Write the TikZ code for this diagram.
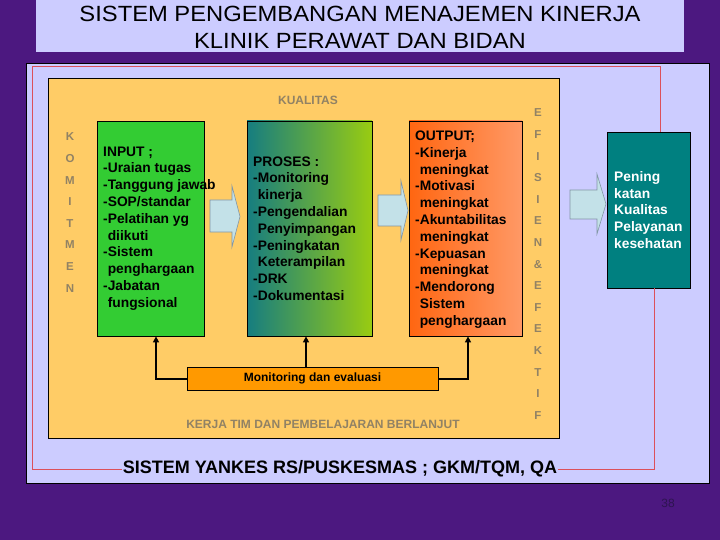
\documentclass[tikz,border=0pt]{standalone}
\usepackage{fontspec}
\setmainfont{Liberation Sans}
\newfontfamily\titlefont{Liberation Sans}[FakeStretch=1.08]
\usetikzlibrary{arrows.meta}
\definecolor{bgpurple}{RGB}{76,24,128}
\definecolor{lav}{RGB}{204,204,255}
\definecolor{peach}{RGB}{255,204,102}
\definecolor{ingreen}{RGB}{51,204,51}
\definecolor{tealc}{RGB}{0,128,128}
\definecolor{procl}{RGB}{22,125,128}
\definecolor{procr}{RGB}{153,204,17}
\definecolor{outl}{RGB}{255,102,17}
\definecolor{outr}{RGB}{255,153,102}
\definecolor{monor}{RGB}{255,153,0}
\definecolor{grayt}{RGB}{145,130,100}
\definecolor{redl}{RGB}{220,80,90}
\definecolor{arrfill}{RGB}{195,225,232}
\definecolor{arrdraw}{RGB}{130,150,165}
\definecolor{pnum}{RGB}{45,20,80}
\begin{document}
\begin{tikzpicture}[x=1pt,y=-1pt,
 box/.style={draw=black, line width=0.8pt, inner sep=0pt},
 btext/.style={font=\bfseries\fontsize{13.8}{16.8}\selectfont, align=left, inner sep=0pt, anchor=west},
 sidelet/.style={font=\bfseries\fontsize{11.5}{12}\selectfont, text=grayt, inner sep=0pt},
 graylabel/.style={font=\bfseries\fontsize{12}{14}\selectfont, text=grayt, inner sep=0pt},
 conn/.style={line width=2pt, -{Triangle[length=6pt,width=6pt]}},
 redline/.style={draw=redl, line width=0.8pt},
 blockarrow/.style={fill=arrfill, draw=arrdraw, line width=0.6pt}]

\fill[bgpurple] (0,0) rectangle (720,540);
\useasboundingbox (0,0) rectangle (720,540);

% title
\node[fill=lav, minimum width=648, minimum height=52, inner sep=0pt] (titlebox) at (360,26) {};
\node[font=\titlefont\fontsize{22}{27}\selectfont, align=center, inner sep=0pt] (title) at (360,27)
  {SISTEM PENGEMBANGAN MENAJEMEN KINERJA\\KLINIK PERAWAT DAN BIDAN};

% main frame
\node[box, fill=lav, minimum width=683, minimum height=420] (frame) at (367.5,273) {};

% bottom label and red loop
\node[font=\bfseries\fontsize{18}{20}\selectfont, inner sep=1pt] (yankes) at (340,469)
  {SISTEM YANKES RS/PUSKESMAS ; GKM/TQM, QA};

% peach area
\node[box, fill=peach, minimum width=511, minimum height=360] (peach) at (303.5,258) {};

\node[graylabel] (kualitas) at (308,100) {KUALITAS};
\node[graylabel] (kerja) at (323,424) {KERJA TIM DAN PEMBELAJARAN BERLANJUT};

\foreach \l [count=\i] in {K,O,M,I,T,M,E,N}
  \node[sidelet] (kom\i) at (70,{137+(\i-1)*21.6}) {\l};
\foreach \l [count=\i] in {E,F,I,S,I,E,N,\&,E,F,E,K,T,I,F}
  \node[sidelet] (ef\i) at (538,{113+(\i-1)*21.6}) {\l};

% boxes
\node[box, fill=ingreen, minimum width=107, minimum height=215] (input) at (150.5,228.5) {};
\node[box, left color=procl, right color=procr, minimum width=125, minimum height=215] (proses) at (309.5,228.5) {};
\node[box, left color=outl, right color=outr, minimum width=113, minimum height=215] (output) at (465.5,228.5) {};
\node[box, fill=tealc, minimum width=83, minimum height=156] (teal) at (648.5,210) {};

\draw[redline] (yankes.west) -| (32,66) -| ([xshift=11.5]teal.north);
\draw[redline] ([xshift=5.5]teal.south) |- (yankes.east);

\node[btext] (intext) at (103,228.5)
  {INPUT ;\\-Uraian tugas\\-Tanggung jawab\\-SOP/standar\\-Pelatihan yg\\\phantom{-}diikuti\\-Sistem\\\phantom{-}penghargaan\\-Jabatan\\\phantom{-}fungsional};
\node[btext] (protext) at (253,228.5)
  {PROSES :\\-Monitoring\\\phantom{-}kinerja\\-Pengendalian\\\phantom{-}Penyimpangan\\-Peningkatan\\\phantom{-}Keterampilan\\-DRK\\-Dokumentasi};
\node[btext] (outtext) at (415,229.5)
  {OUTPUT;\\-Kinerja\\\phantom{-}meningkat\\-Motivasi\\\phantom{-}meningkat\\-Akuntabilitas\\\phantom{-}meningkat\\-Kepuasan\\\phantom{-}meningkat\\-Mendorong\\\phantom{-}Sistem\\\phantom{-}penghargaan};
\node[btext, text=white] (tealtext) at (614,210)
  {Pening\\katan\\Kualitas\\Pelayanan\\kesehatan};

% block arrows
\draw[blockarrow] (210,200) -- (232,200) -- (232,186) -- (240,216.5) -- (232,247) -- (232,232) -- (210,232) -- cycle;
\draw[blockarrow] (378,195) -- (401,195) -- (401,181) -- (408,210.5) -- (401,240) -- (401,226) -- (378,226) -- cycle;
\draw[blockarrow] (570,190) -- (597,190) -- (597,174) -- (606,204) -- (597,234) -- (597,219) -- (570,219) -- cycle;

% monitoring
\node[box, fill=monor, minimum width=251, minimum height=23, font=\bfseries\fontsize{12}{14}\selectfont] (mon) at (312.5,378.5) {Monitoring dan evaluasi};
\draw[conn] (mon.west) -| ([xshift=5.5]input.south);
\draw[conn] ([xshift=-3.5]proses.south |- mon.north) -- ([xshift=-3.5]proses.south);
\draw[conn] (mon.east) -| ([xshift=2.5]output.south);

\node[font=\fontsize{12}{14}\selectfont, text=pnum, inner sep=0pt] (pagenum) at (668,503) {38};
\end{tikzpicture}
\end{document}
